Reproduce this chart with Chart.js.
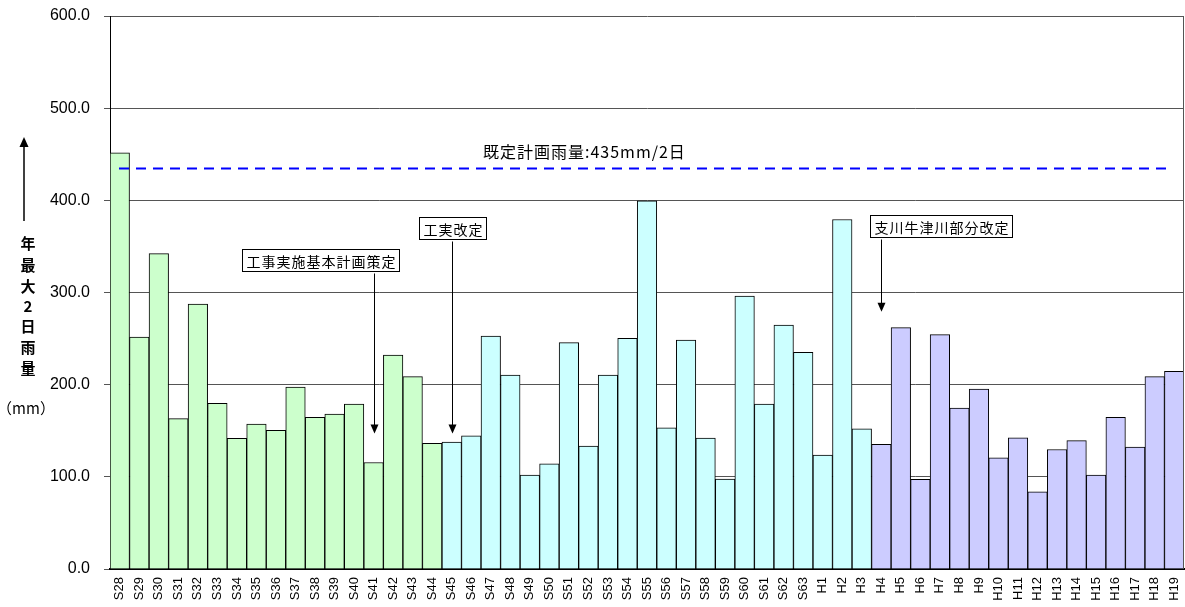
<!DOCTYPE html>
<html>
<head>
<meta charset="utf-8">
<script src="https://cdn.jsdelivr.net/npm/chart.js@4/dist/chart.umd.min.js"></script>
<style>
  html, body { margin: 0; padding: 0; background: #fff; }
  #wrap { position: relative; width: 1185px; height: 607px; }
</style>
</head>
<body>
<div id="wrap"><canvas id="graphe"></canvas></div>
<script>
// years (Showa / Heisei)
var years = ['S28','S29','S30','S31','S32','S33','S34','S35','S36','S37','S38','S39','S40','S41','S42','S43','S44',
  'S45','S46','S47','S48','S49','S50','S51','S52','S53','S54','S55','S56','S57','S58','S59','S60','S61','S62','S63',
  'H1','H2','H3','H4','H5','H6','H7','H8','H9','H10','H11','H12','H13','H14','H15','H16','H17','H18','H19'];
// annual max 2-day rainfall (mm)
var rain2day = [451.5,251.7,342.2,163.1,287.5,179.7,141.7,157.2,150.4,197.4,164.5,168.1,179.0,115.6,232.1,208.7,136.3,
  137.7,144.6,252.8,210.4,101.8,114.2,245.6,133.4,210.4,250.3,399.5,153.3,248.5,142.0,97.5,296.2,179.0,264.6,235.1,
  123.6,379.2,152.2,135.2,261.9,97.4,254.3,174.6,195.2,120.7,142.4,83.8,129.7,139.2,101.8,164.5,132.2,208.7,214.4];
// first year of each plan period and its colour
var periodStart = ['S28','S45','H4'];
var periodColor = ['#ccffcc','#ccffff','#ccccff'];
var planRain = 435;
var planLabel = '既定計画雨量:435mm/2日';
var yTicks = [0,100,200,300,400,500,600];
// notes: label, year the arrow points at, arrow tip value, box top value
var notes = [
  {text: '工事実施基本計画策定', year: 'S41', tip: 147, box: 347},
  {text: '工実改定', year: 'S45', tip: 147, box: 382},
  {text: '支川牛津川部分改定', year: 'H4', tip: 279, box: 384}
];

var JP = '"Noto Sans CJK JP", "Liberation Sans", sans-serif';

//colour of each bar from the period it belongs to
var barColors = years.map(function(y, i){
    var c = periodColor[0];
    periodStart.forEach(function(p, k){
        if (i >= years.indexOf(p)) c = periodColor[k];
    });
    return c;
});

var extras = {
    id: 'extras',
    afterDatasetsDraw: function(chart){
        var ctx = chart.ctx, a = chart.chartArea;
        var x = chart.scales.x, y = chart.scales.y;
        ctx.save();
        //right border of plot
        ctx.strokeStyle = '#555';
        ctx.lineWidth = 1;
        ctx.beginPath();
        ctx.moveTo(a.right - 0.5, a.top);
        ctx.lineTo(a.right - 0.5, a.bottom);
        ctx.stroke();
        //plan rainfall line
        var py = Math.round(y.getPixelForValue(planRain)) + 0.5;
        ctx.strokeStyle = '#0000ff';
        ctx.lineWidth = 2;
        ctx.setLineDash([10, 7]);
        ctx.beginPath();
        ctx.moveTo(a.left + 9, py);
        ctx.lineTo(a.right - 14, py);
        ctx.stroke();
        ctx.setLineDash([]);
        ctx.fillStyle = '#000';
        ctx.font = '16px ' + JP;
        ctx.letterSpacing = '1px';
        ctx.textAlign = 'left';
        ctx.textBaseline = 'middle';
        ctx.fillText(planLabel, 483, py - 17);
        //notes with arrows
        notes.forEach(function(n){
            var cx = Math.round(x.getPixelForValue(years.indexOf(n.year))) + 0.5;
            var top = Math.round(y.getPixelForValue(n.box)) + 0.5;
            var tip = y.getPixelForValue(n.tip);
            ctx.font = '14px ' + JP;
            ctx.letterSpacing = '1px';
            var w = Math.round(ctx.measureText(n.text).width) + 7;
            var h = 22;
            var bx = n.year == 'S45' ? cx - w / 2 : (n.year == 'S41' ? cx + 24 - w : cx - 12);
            bx = Math.round(bx) + 0.5;
            ctx.fillStyle = '#fff';
            ctx.fillRect(bx, top, w, h);
            ctx.strokeStyle = '#000';
            ctx.lineWidth = 1;
            ctx.strokeRect(bx, top, w, h);
            ctx.fillStyle = '#000';
            ctx.textAlign = 'center';
            ctx.fillText(n.text, bx + w / 2 + 0.5, top + h / 2 + 1);
            ctx.beginPath();
            ctx.moveTo(cx, top + h + 2);
            ctx.lineTo(cx, tip - 8);
            ctx.stroke();
            ctx.beginPath();
            ctx.moveTo(cx - 4, tip - 9);
            ctx.lineTo(cx + 4, tip - 9);
            ctx.lineTo(cx, tip);
            ctx.closePath();
            ctx.fill();
        });
        ctx.letterSpacing = '0px';
        //y axis title, vertical
        ctx.fillStyle = '#000';
        ctx.strokeStyle = '#000';
        ctx.lineWidth = 1.5;
        ctx.beginPath();
        ctx.moveTo(24, 221);
        ctx.lineTo(24, 146);
        ctx.stroke();
        ctx.beginPath();
        ctx.moveTo(19.5, 147);
        ctx.lineTo(28.5, 147);
        ctx.lineTo(24, 137);
        ctx.closePath();
        ctx.fill();
        ctx.font = 'bold 15px ' + JP;
        ctx.textAlign = 'center';
        var title = '年最大2日雨量';
        var ty = [243, 265, 286, 306, 326, 347, 368];
        for (var i = 0; i < title.length; i++) {
            ctx.fillText(title[i], 28, ty[i]);
        }
        ctx.font = '15px ' + JP;
        ctx.fillText('（mm）', 26, 408);
        ctx.restore();
    }
};

function insertGraph(){
    var ctx = document.getElementById('graphe').getContext('2d');
    new Chart(ctx, {
        type: 'bar',
        data: {
            labels: years,
            datasets: [{
                label: '年最大2日雨量',
                data: rain2day,
                backgroundColor: barColors,
                borderColor: '#000',
                borderWidth: 1,
                barPercentage: 1,
                categoryPercentage: 1
            }]
        },
        options: {
            responsive: true,
            maintainAspectRatio: false,
            animation: false,
            devicePixelRatio: 1,
            layout: { padding: { top: 16, right: 1, left: 0, bottom: 0 } },
            plugins: { legend: { display: false }, tooltip: { enabled: false } },
            scales: {
                x: {
                    grid: { display: false, tickLength: 6 },
                    border: { display: true, color: '#000', width: 2 },
                    ticks: {
                        autoSkip: false, minRotation: 90, maxRotation: 90,
                        color: '#000', padding: 2,
                        font: { family: '"Liberation Sans", Arial, sans-serif', size: 13 }
                    },
                    afterFit: function(s){ s.height = 38; s.paddingLeft = 0; s.paddingRight = 0; }
                },
                y: {
                    min: 0, max: 600,
                    afterBuildTicks: function(s){ s.ticks = yTicks.map(function(v){ return {value: v}; }); },
                    grid: { color: '#555', lineWidth: 1, tickLength: 6, drawTicks: true },
                    border: { display: true, color: '#000', width: 1 },
                    ticks: {
                        color: '#000', padding: 14,
                        font: { family: '"Liberation Sans", Arial, sans-serif', size: 16 },
                        callback: function(v){ return v.toFixed(1); }
                    },
                    afterFit: function(s){ s.width = 110; s.paddingTop = 0; s.paddingBottom = 0; }
                }
            }
        },
        plugins: [extras]
    });
}
insertGraph();
</script>
</body>
</html>
